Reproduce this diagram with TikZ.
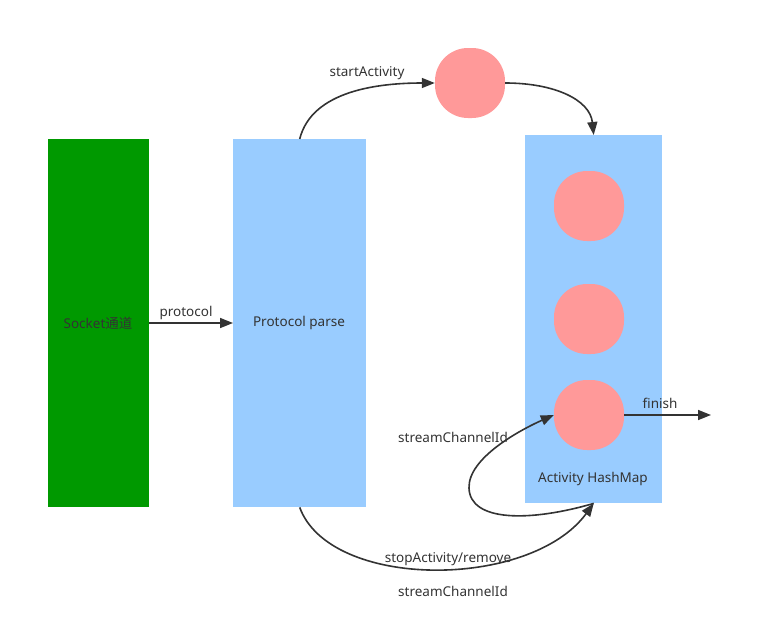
\documentclass[tikz,border=0pt]{standalone}
\usepackage{fontspec}
\setmainfont{Noto Sans}
\newfontfamily\cjk{Noto Sans CJK SC}
\usetikzlibrary{arrows.meta}
\definecolor{sgreen}{HTML}{009900}
\definecolor{sblue}{HTML}{99CCFF}
\definecolor{spink}{HTML}{FF9999}
\definecolor{sline}{HTML}{333333}
\begin{document}
\begin{tikzpicture}[x=1pt,y=-1pt,
  every node/.style={font=\fontsize{13.5}{16}\selectfont, text=sline},
  bar/.style={draw=none, inner sep=0pt, anchor=north west},
  blob/.style={fill=spink, draw=none, minimum width=70pt, minimum height=70pt, rounded corners=33pt, inner sep=0pt},
  conn/.style={draw=sline, line width=1.6pt, -{Triangle[length=13pt,width=10pt]}},
  lbl/.style={inner sep=1pt}]
\useasboundingbox (0,0) rectangle (773,643);
\node[bar, fill=sgreen, minimum width=101pt, minimum height=368pt] (sock) at (48,139) {};
\node[bar, fill=sblue, minimum width=133pt, minimum height=368pt] (parse) at (233,139) {};
\node[bar, fill=sblue, minimum width=137pt, minimum height=368pt] (hm) at (525,135) {};
\node at (98,323) {Socket{\cjk 通道}};
\node at (299,323) {Protocol parse};
\node at (593,479) {Activity HashMap};
\node[blob] (c0) at (470,83) {};
\node[blob] (c1) at (589,206) {};
\node[blob] (c2) at (589,319) {};
\node[blob] (c3) at (589,415) {};
\coordinate (fin) at (711,415);
% protocol
\draw[conn] (sock.east |- 0,323) -- (parse.west |- 0,323);
\node[lbl] at (186,313) {protocol};
% startActivity
\draw[conn] (parse.north) .. controls (312,90) and (380,83) .. (c0.west);
\node[lbl] at (367,73) {startActivity};
\draw[conn] (c0.east) .. controls (555,83) and (590,100) .. (hm.north);
% stopActivity
\draw[conn] (parse.south) .. controls (330,590) and (530,590) .. (hm.south);
\node[lbl] at (448,559) {stopActivity/remove};
\node[lbl] at (453,591) {streamChannelId};
% loop
\draw[conn] (hm.south) .. controls (530,522) and (470,522) .. (469,488) .. controls (468,458) and (520,430) .. (c3.west);
\node[lbl] at (453,437) {streamChannelId};
% finish
\draw[conn] (c3.east) -- (fin);
\node[lbl] at (660,403) {finish};
\end{tikzpicture}
\end{document}
